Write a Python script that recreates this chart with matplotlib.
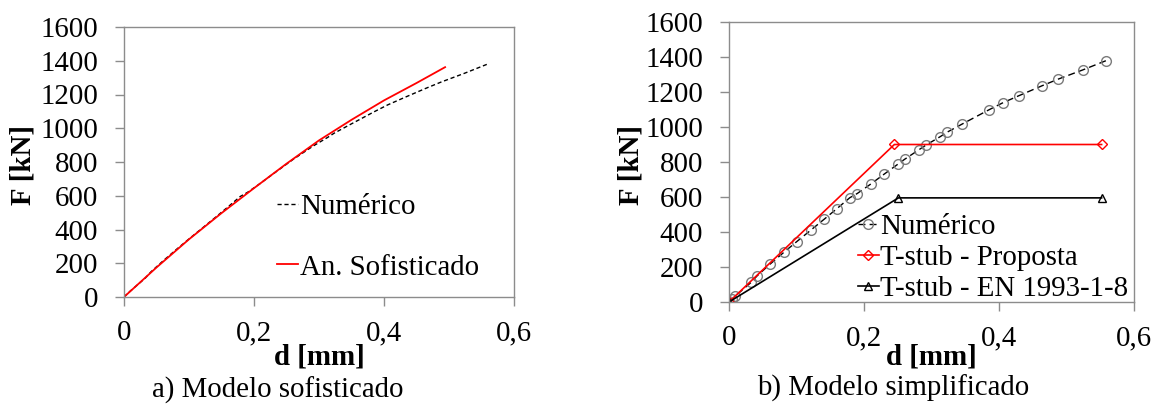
import matplotlib
matplotlib.use("Agg")
import matplotlib.pyplot as plt

plt.rcParams['font.family'] = ['Liberation Serif', 'DejaVu Serif']

# ---- data ----
num_d = [0, 0.004, 0.009, 0.033, 0.0415, 0.061, 0.081, 0.100, 0.121, 0.141, 0.160,
         0.179, 0.190, 0.210, 0.230, 0.250, 0.260, 0.281, 0.292, 0.313, 0.323,
         0.345, 0.385, 0.406, 0.4296, 0.464, 0.488, 0.524, 0.5585]
num_F = [0, 15, 33, 113, 149, 217, 283, 344, 410, 473, 534,
         596, 620, 674, 731, 787, 815, 869, 897, 945, 970,
         1016, 1098, 1139, 1179, 1236, 1274, 1326, 1379]

sof_d = [0, 0.05, 0.10, 0.15, 0.20, 0.25, 0.30, 0.35, 0.40, 0.45, 0.494]
sof_F = [0, 175, 342, 497, 645, 790, 928, 1050, 1165, 1268, 1362]

prop_d = [0, 0.245, 0.552]
prop_F = [0, 900, 900]

en_d = [0, 0.251, 0.552]
en_F = [0, 595, 595]

xticks = [0, 0.2, 0.4, 0.6]
xticklabels = ['0', '0,2', '0,4', '0,6']
yticks = [0, 200, 400, 600, 800, 1000, 1200, 1400, 1600]

W, H = 1161, 405
FS = 20.8
GRAY = '#8c8c8c'

fig = plt.figure(figsize=(W / 100, H / 100), dpi=100)


def px_axes(l, r, t, b):
    return fig.add_axes([l / W, (H - b) / H, (r - l) / W, (b - t) / H])


def style(ax):
    ax.set_xlim(0, 0.6)
    ax.set_ylim(0, 1600)
    ax.set_xticks(xticks)
    ax.set_xticklabels(xticklabels)
    ax.set_yticks(yticks)
    for s in ax.spines.values():
        s.set_color(GRAY)
        s.set_linewidth(1.0)
    ax.tick_params(axis='both', direction='out', length=6.5, width=1.0,
                   color=GRAY, labelsize=FS, labelcolor='black')
    ax.tick_params(axis='y', pad=12)
    ax.tick_params(axis='x', pad=10)


ax1 = px_axes(124, 514, 27, 297)
style(ax1)
ax1.plot(num_d, num_F, color='black', lw=1.0, ls=(0, (3, 2)), label='Numérico')
ax1.plot(sof_d, sof_F, color='red', lw=1.3, label='An. Sofisticado')
ax1.legend(loc='center left', bbox_to_anchor=(277 / W, (H - 237) / H),
           bbox_transform=fig.transFigure, frameon=False, fontsize=FS,
           borderpad=0, borderaxespad=0, handlelength=0.72, handletextpad=0.08,
           labelspacing=1.2)

ax2 = px_axes(729, 1134, 22, 302)
style(ax2)
ax2.plot(num_d, num_F, color='black', lw=1.0, ls=(0, (5, 3)), marker='o',
         ms=7, mfc='none', mec='#7a7a7a', mew=1.0, label='Numérico')
ax2.plot(prop_d, prop_F, color='red', lw=1.2, marker='D', ms=5.5,
         mfc='none', mec='red', mew=1.0, label='T-stub - Proposta')
ax2.plot(en_d, en_F, color='black', lw=1.2, marker='^', ms=6,
         mfc='none', mec='black', mew=1.0, label='T-stub - EN 1993-1-8')
ax2.legend(loc='center left', bbox_to_anchor=(858 / W, (H - 258) / H),
           bbox_transform=fig.transFigure, frameon=False, fontsize=FS,
           borderpad=0, borderaxespad=0, handlelength=0.72, handletextpad=0.05,
           labelspacing=0.17, numpoints=1)

# axis labels and captions
fig.text(23 / W, (H - 165) / H, 'F [kN]', rotation=90, ha='center', va='center',
         fontsize=FS, fontweight='bold')
fig.text(631 / W, (H - 165) / H, 'F [kN]', rotation=90, ha='center', va='center',
         fontsize=FS, fontweight='bold')
fig.text(319 / W, (H - 357) / H, 'd [mm]', ha='center', va='center',
         fontsize=FS, fontweight='bold')
fig.text(931.5 / W, (H - 357) / H, 'd [mm]', ha='center', va='center',
         fontsize=FS, fontweight='bold')
fig.text(278 / W, (H - 390) / H, 'a) Modelo sofisticado', ha='center', va='center',
         fontsize=FS)
fig.text(893 / W, (H - 388) / H, 'b) Modelo simplificado', ha='center', va='center',
         fontsize=FS)

fig.savefig('out.png', dpi=100)
